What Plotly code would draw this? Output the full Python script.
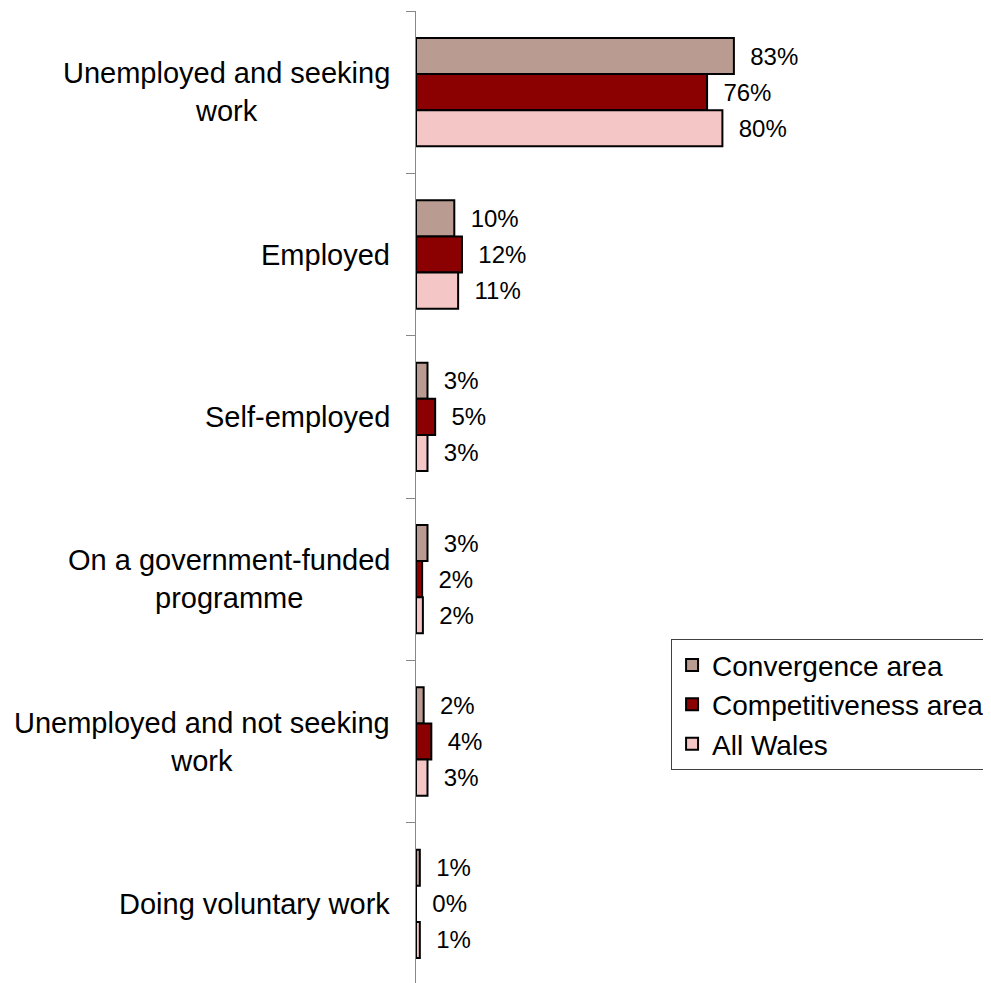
import plotly.graph_objects as go

categories = [
    "Unemployed and seeking<br>work",
    "Employed",
    "Self-employed",
    "On a government-funded<br>programme",
    "Unemployed and not seeking<br>work",
    "Doing voluntary work",
]
series_names = ["Convergence area", "Competitiveness area", "All Wales"]
convergence = [83, 10, 3, 3, 2, 1]
competitiveness = [76, 12, 5, 1.6, 4, 0]
all_wales = [80, 11, 3, 1.8, 3, 1]
colors = ["#BA9B92", "#8B0000", "#F4C6C6"]

fig = go.Figure()
for name, vals, col in zip(series_names, [convergence, competitiveness, all_wales], colors):
    fig.add_trace(go.Bar(
        name=name,
        y=categories,
        x=vals,
        orientation="h",
        marker=dict(color=col, line=dict(color="black", width=2)),
        texttemplate="\u00a0\u00a0%{x:.0f}%",
        textposition="outside",
        constraintext="none",
        cliponaxis=False,
        textfont=dict(family="Liberation Sans, Arial, sans-serif", size=24, color="black"),
    ))

annotations = []
for c in categories:
    annotations.append(dict(
        x=0, xref="paper", y=c, yref="y",
        text=c, showarrow=False,
        xanchor="right", yanchor="middle", align="center",
        xshift=-24,
        font=dict(family="Liberation Sans, Arial, sans-serif", size=29, color="black"),
    ))

fig.update_layout(
    width=991, height=983,
    margin=dict(l=408, r=200, t=3, b=6),
    paper_bgcolor="white", plot_bgcolor="white",
    barmode="group", bargap=0.333, bargroupgap=0,
    showlegend=True,
    legend=dict(
        x=0.666, y=0.355, xanchor="left", yanchor="top",
        traceorder="normal",
        bordercolor="#404040", borderwidth=1,
        font=dict(family="Liberation Sans, Arial, sans-serif", size=28, color="black"),
        bgcolor="white",
    ),
    annotations=annotations,
    xaxis=dict(visible=False, range=[0, 100]),
    yaxis=dict(
        autorange="reversed",
        showticklabels=False,
        showline=True, linecolor="#888888", linewidth=1,
        ticks="outside", tickson="boundaries", ticklen=9, tickcolor="#888888",
        showgrid=False, zeroline=False,
    ),
)

fig.write_html("out.html")
